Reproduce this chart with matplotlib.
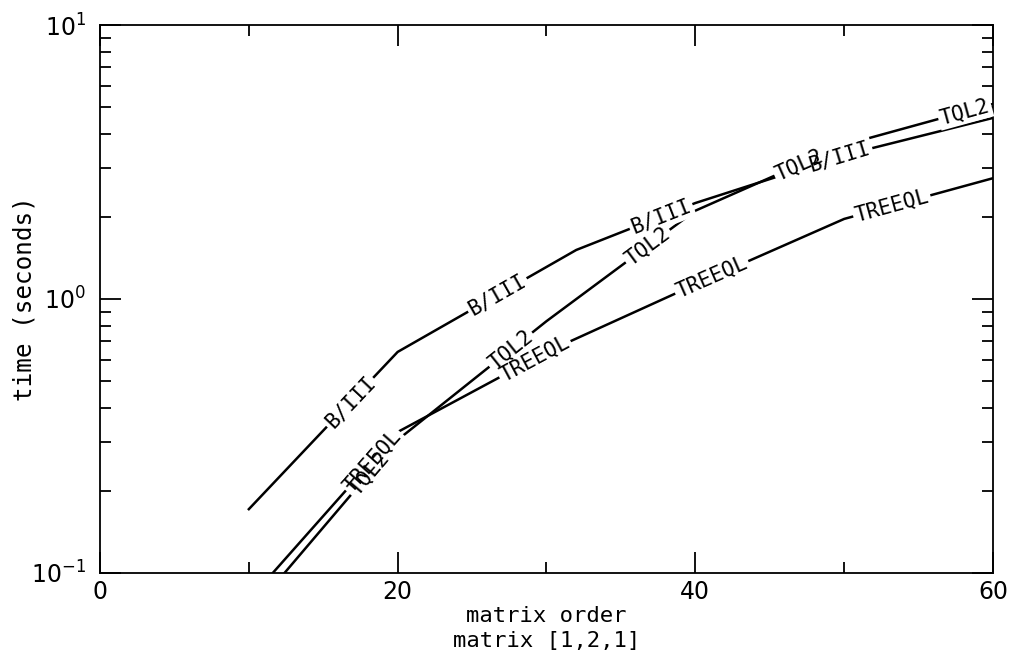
import matplotlib
matplotlib.use('Agg')
import matplotlib.pyplot as plt
import matplotlib.ticker as mticker
import numpy as np

# matrix order vs time
order = [10, 20, 30, 40, 50, 60]
order_b3 = [10, 20, 32, 40, 50, 60]
time_b3 = [0.171, 0.641, 1.51, 2.24, 3.35, 4.58]
time_tql2 = [0.0703, 0.306, 0.83, 2.10, 3.65, 5.15]
time_treeql = [0.0797, 0.327, 0.64, 1.13, 1.96, 2.76]

# where the inline labels sit along each curve (x position)
lab_b3 = [16.8, 26.7, 37.7, 49.7]
lab_tql2 = [18.1, 27.6, 36.8, 47.0, 58.1]
lab_treeql = [18.3, 29.2, 41.1, 53.2]

mono = 'DejaVu Sans Mono'
plt.rcParams['font.family'] = mono
plt.rcParams['mathtext.default'] = 'regular'

fig = plt.figure(figsize=(10.12, 6.61), dpi=100)
ax = fig.add_axes([100/1012, 1-573/661, 893/1012, 548/661])

curves = [
    (order_b3, time_b3, 'B/III', lab_b3),
    (order, time_tql2, 'TQL2', lab_tql2),
    (order, time_treeql, 'TREEQL', lab_treeql),
]

for xs, ys, name, labs in curves:
    ax.plot(xs, ys, color='k', lw=1.8, zorder=2, solid_joinstyle='miter')

ax.set_yscale('log')
ax.set_xlim(0, 60)
ax.set_ylim(0.1, 10)

ax.xaxis.set_major_locator(mticker.FixedLocator([0, 20, 40, 60]))
ax.xaxis.set_minor_locator(mticker.FixedLocator([10, 30, 50]))
ax.yaxis.set_minor_formatter(mticker.NullFormatter())
ax.tick_params(which='both', direction='in', top=True, right=True, width=1.3)
ax.tick_params(which='major', length=15)
ax.tick_params(which='minor', length=8)
ax.tick_params(axis='x', labelsize=17, pad=5)
ax.tick_params(axis='y', labelsize=17, pad=10)
for lab in ax.get_xticklabels() + ax.get_yticklabels():
    lab.set_family('DejaVu Sans')
for s in ax.spines.values():
    s.set_linewidth(1.3)

ax.set_xlabel('matrix order\nmatrix [1,2,1]', fontsize=16, linespacing=1.3)
ax.xaxis.set_label_coords(0.5, -0.06, transform=ax.transAxes)
ax.xaxis.label.set_va('top')
ax.set_ylabel('time (seconds)', fontsize=17.5)
ax.yaxis.set_label_coords(-0.085, 0.5, transform=ax.transAxes)
ax.yaxis.label.set_va('center')

# inline labels: white box under text cuts a gap in the line
for xs, ys, name, labs in curves:
    ly = np.log10(ys)
    for lx in labs:
        yv = 10 ** np.interp(lx, xs, ly)
        y0 = 10 ** np.interp(lx - 0.6, xs, ly)
        y1 = 10 ** np.interp(lx + 0.6, xs, ly)
        p0 = ax.transData.transform((lx - 0.6, y0))
        p1 = ax.transData.transform((lx + 0.6, y1))
        ang = np.degrees(np.arctan2(p1[1] - p0[1], p1[0] - p0[0]))
        ax.text(lx, yv, name, fontsize=15, rotation=ang, rotation_mode='anchor',
                ha='center', va='center', color='none', zorder=3,
                bbox=dict(fc='white', ec='none', pad=1.5))
        ax.text(lx, yv, name, fontsize=15, rotation=ang, rotation_mode='anchor',
                ha='center', va='center', color='k', zorder=4)

fig.savefig('out.png', dpi=100)
